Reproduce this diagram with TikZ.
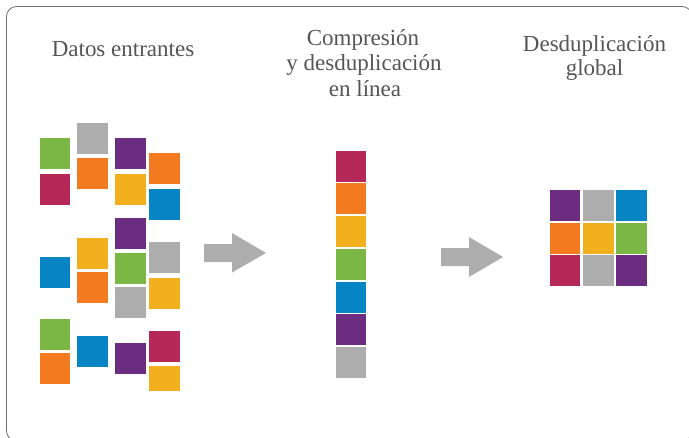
\documentclass[tikz,border=0pt]{standalone}
\usepackage{fontspec}
\setmainfont{Liberation Serif}
\newfontfamily\fb{Liberation Serif}
\definecolor{cgreen}{HTML}{7AB745}
\definecolor{ccrim}{HTML}{B62858}
\definecolor{cgray}{HTML}{ADADAD}
\definecolor{corange}{HTML}{F47A20}
\definecolor{cpurple}{HTML}{6C2C80}
\definecolor{cyellow}{HTML}{F2AF1E}
\definecolor{cblue}{HTML}{0784C3}
\definecolor{ctext}{HTML}{555555}
\definecolor{cframe}{HTML}{707070}
\tikzset{
  lbl/.style={anchor=base, text=ctext, inner sep=0pt, font=\fontsize{23}{25.5}\selectfont},
  blockarrow/.style={fill=cgray, draw=none}
}
\newcommand{\sqbox}[3]{\fill[#1] (#2-15.25,#3-15.5) rectangle (#2+15.25,#3+15.5);}
\begin{document}
\begin{tikzpicture}[x=1pt,y=-1pt]
\useasboundingbox (0,0) rectangle (689,437);
\begin{scope}
\clip (0,0) rectangle (689,437);
\draw[cframe, line width=0.8pt, rounded corners=10pt] (6.5,6.5) rectangle (692,441);
\end{scope}
% titles
\node[lbl] (t1) at (123,56) {\fb Datos entrantes};
\node[lbl] (t2a) at (363,45) {\fb Compresión};
\node[lbl] (t2b) at (364,70.5) {\fb y desduplicación};
\node[lbl] (t2c) at (365,96) {\fb en línea};
\node[lbl] (t3a) at (594.5,51) {\fb Desduplicación};
\node[lbl] (t3b) at (594.5,75.5) {\fb global};
% incoming data, column 1
\sqbox{cgreen}{55}{153.5}
\sqbox{ccrim}{55}{189.5}
\sqbox{cblue}{55}{272.5}
\sqbox{cgreen}{55}{334}
\sqbox{corange}{55}{368.5}
% column 2
\sqbox{cgray}{92.5}{138.5}
\sqbox{corange}{92.5}{173.5}
\sqbox{cyellow}{92.5}{253}
\sqbox{corange}{92.5}{287.5}
\sqbox{cblue}{92.5}{351.5}
% column 3
\sqbox{cpurple}{130.5}{153.5}
\sqbox{cyellow}{130.5}{189.5}
\sqbox{cpurple}{130.5}{233.5}
\sqbox{cgreen}{130.5}{268.5}
\sqbox{cgray}{130.5}{302.5}
\sqbox{cpurple}{130.5}{358.5}
% column 4
\sqbox{corange}{164.5}{168.5}
\sqbox{cblue}{164.5}{204.5}
\sqbox{cgray}{164.5}{257.5}
\sqbox{cyellow}{164.5}{293.5}
\sqbox{ccrim}{164.5}{346.5}
\fill[cyellow] (149.25,366) rectangle (179.75,391);
% middle stack
\sqbox{ccrim}{351}{166.5}
\sqbox{corange}{351}{198.5}
\sqbox{cyellow}{351}{231.5}
\sqbox{cgreen}{351}{264}
\sqbox{cblue}{351}{297.5}
\sqbox{cpurple}{351}{329.5}
\sqbox{cgray}{351}{362.5}
% global grid
\sqbox{cpurple}{565}{205.5}
\sqbox{cgray}{598.5}{205.5}
\sqbox{cblue}{631.5}{205.5}
\sqbox{corange}{565}{238}
\sqbox{cyellow}{598.5}{238}
\sqbox{cgreen}{631.5}{238}
\sqbox{ccrim}{565}{270.5}
\sqbox{cgray}{598.5}{270.5}
\sqbox{cpurple}{631.5}{270.5}
% block arrows
\fill[blockarrow] (204,244) -- (232,244) -- (232,233) -- (266,253) -- (232,272.5) -- (232,262) -- (204,262) -- cycle;
\fill[blockarrow] (441,248) -- (469,248) -- (469,237) -- (503,257) -- (469,277) -- (469,266) -- (441,266) -- cycle;
\end{tikzpicture}
\end{document}
